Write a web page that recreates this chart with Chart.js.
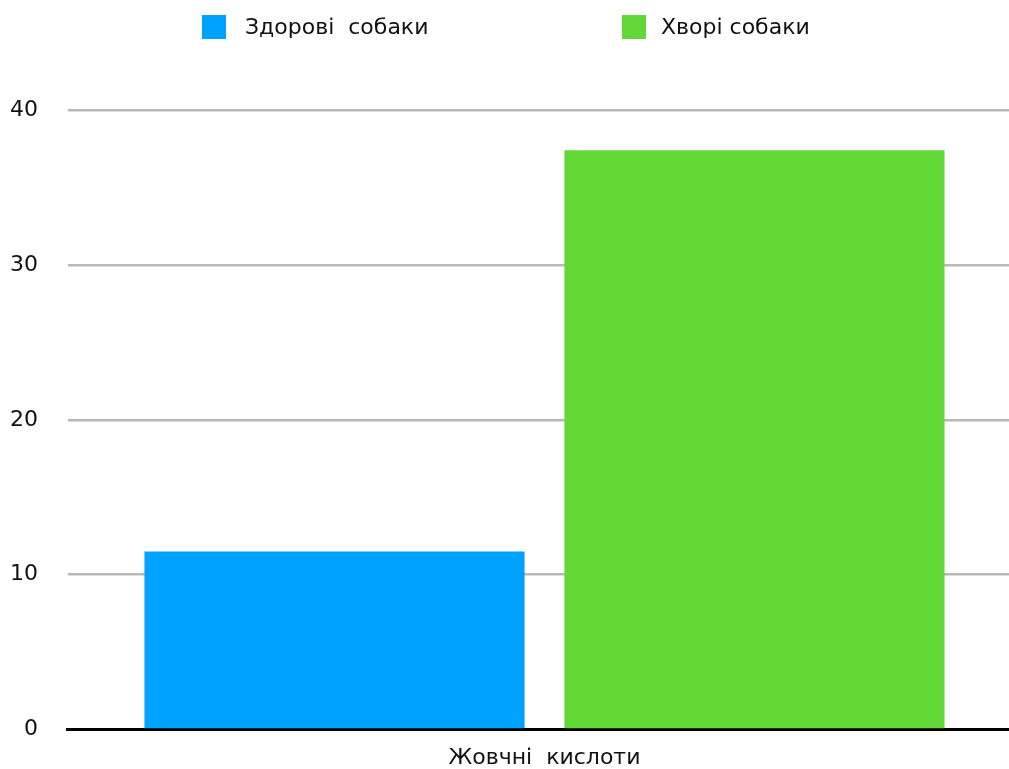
<!DOCTYPE html>
<html>
<head>
<meta charset="utf-8">
<script src="https://cdn.jsdelivr.net/npm/chart.js@4/dist/chart.umd.min.js"></script>
<style>
    body { margin: 0; background: #fff; }
    #wrap { position: relative; width: 1009px; height: 769px; overflow: hidden; }
    #chart { position: absolute; left: -20px; top: 0; }
    #legend { position: absolute; top: 0; left: 0; width: 1009px; height: 60px; font-family: 'DejaVu Sans'; font-size: 22px; color: #111; z-index: 2; }
    .item { position: absolute; top: 14px; height: 26px; line-height: 26px; white-space: pre; }
    .swatch { position: absolute; top: 1px; width: 24px; height: 24px; }
    .lbl { position: absolute; top: 0; }
</style>
</head>
<body>
<div id="wrap">
    <div id="legend"></div>
    <!-- полотно трохи ширше й вище за кадр, щоб вирівняти область графіка -->
    <canvas id="chart" width="1041" height="786"></canvas>
</div>
<script>
// дані
const categories = ['Жовчні  кислоти'];
const seriesNames = ['Здорові  собаки', 'Хворі собаки'];
const seriesColors = ['#00a2ff', '#62d836'];
const healthy = [11.5];
const sick = [37.4];
const yTicks = [0, 10, 20, 30, 40];

const FONT = 'DejaVu Sans';

// легенда (HTML)
const legendX = [202, 622];
const legendTextX = [43, 39];
const legendEl = document.getElementById('legend');
seriesNames.forEach((name, i) => {
    const item = document.createElement('div');
    item.className = 'item';
    item.style.left = legendX[i] + 'px';
    item.innerHTML = `<span class="swatch" style="background:${seriesColors[i]}"></span><span class="lbl" style="left:${legendTextX[i]}px">${name}</span>`;
    legendEl.appendChild(item);
});

new Chart(document.getElementById('chart').getContext('2d'), {
    type: 'bar',
    data: {
        labels: categories,
        datasets: [
            { label: seriesNames[0], data: healthy, backgroundColor: seriesColors[0], borderWidth: 0 },
            { label: seriesNames[1], data: sick, backgroundColor: seriesColors[1], borderWidth: 0 }
        ]
    },
    options: {
        responsive: false,
        animation: false,
        layout: { padding: { left: 0, right: 0, top: 110, bottom: 0 } },
        categoryPercentage: 0.8814,
        barPercentage: 0.905,
        scales: {
            x: {
                grid: { display: false, drawTicks: false },
                border: { display: true, color: '#000', width: 3 },
                ticks: { color: '#111', font: { family: FONT, size: 22 }, padding: 15 }
            },
            y: {
                min: 0,
                max: 40,
                afterBuildTicks: axis => { axis.ticks = yTicks.map(v => ({ value: v })); },
                grid: { color: '#b8b8b8', lineWidth: 2.5, drawTicks: false },
                border: { display: false },
                ticks: { color: '#111', font: { family: FONT, size: 22 }, padding: 30 }
            }
        },
        plugins: {
            legend: { display: false },
            tooltip: { enabled: false }
        }
    }
});
</script>
</body>
</html>
